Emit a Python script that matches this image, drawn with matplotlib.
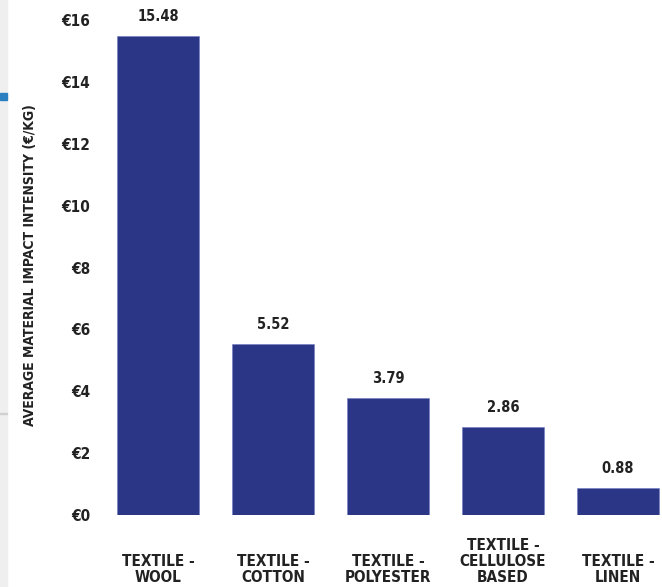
import matplotlib
matplotlib.use("Agg")
import matplotlib.pyplot as plt
from matplotlib.patches import Rectangle
import matplotlib.transforms as mtransforms

# 数据
categories = ["TEXTILE -\nWOOL", "TEXTILE -\nCOTTON", "TEXTILE -\nPOLYESTER",
              "TEXTILE -\nCELLULOSE\nBASED", "TEXTILE -\nLINEN"]
values = [15.48, 5.52, 3.79, 2.86, 0.88]
value_labels = ["15.48", "5.52", "3.79", "2.86", "0.88"]
yticks = [0, 2, 4, 6, 8, 10, 12, 14, 16]
ytick_labels = ["€0", "€2", "€4", "€6", "€8", "€10", "€12", "€14", "€16"]

bar_color = "#2b3686"
text_kw = dict(family="DejaVu Sans", fontstretch="condensed", fontweight="bold", color="#222222")

fig = plt.figure(figsize=(6.62, 5.87), dpi=100)
W, H = 662, 587
ax = fig.add_axes([100 / W, (H - 515) / H, (662 - 100) / W, (515 - 20) / H])

# 左侧灰色边条
fig.patches.append(Rectangle((0, 0), 7 / W, 1, transform=fig.transFigure,
                             color="#efefef", zorder=0))
fig.patches.append(Rectangle((0, (H - 100) / H), 7 / W, 7 / H, transform=fig.transFigure,
                             color="#2a7fc0", zorder=1))
fig.patches.append(Rectangle((0, (H - 414) / H), 7 / W, 1.5 / H, transform=fig.transFigure,
                             color="#d0d0d0", zorder=1))

x = list(range(len(values)))
bars = ax.bar(x, values, width=0.715, color=bar_color, edgecolor="#6f7bbf", linewidth=0.4)

for i, v in enumerate(values):
    ax.annotate(value_labels[i], (i, v), xytext=(0, 12), textcoords="offset pixels",
                ha="center", va="bottom", fontsize=10.5, annotation_clip=False, **text_kw)

ax.set_xlim(-0.504, 4.383)
ax.set_ylim(0, 16)
ax.set_yticks(yticks)
ax.set_yticklabels(ytick_labels, fontsize=11, **text_kw)
ax.tick_params(axis="y", length=0, pad=7)
ax.set_xticks([])

trans = mtransforms.blended_transform_factory(ax.transData, ax.transAxes)
for i, lab in enumerate(categories):
    ax.text(i, (515 - 582) / 495, lab, transform=trans, ha="center", va="baseline",
            multialignment="center", fontsize=11, linespacing=1.1, **text_kw)

for s in ax.spines.values():
    s.set_visible(False)

fig.text(30 / W, (H - 265) / H, "AVERAGE MATERIAL IMPACT INTENSITY (€/KG)", rotation=90,
         ha="center", va="center", fontsize=10, **text_kw)

fig.savefig("out.png", dpi=100)
